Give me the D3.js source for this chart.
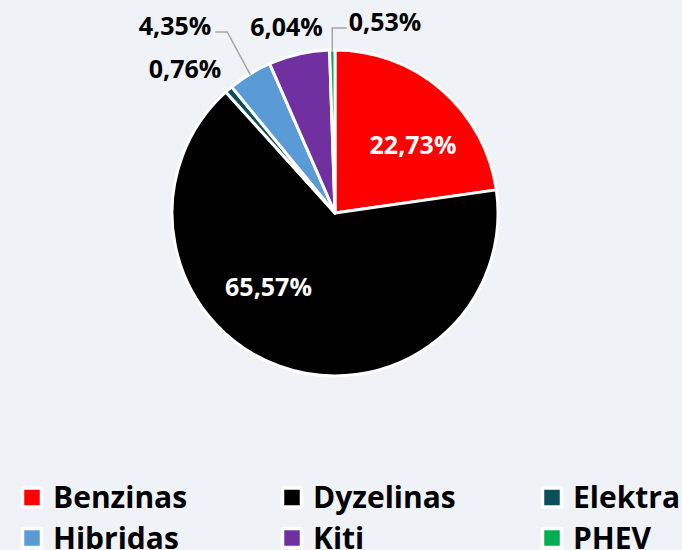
<!DOCTYPE html>
<html>
<head>
<meta charset="utf-8">
<script src="https://cdn.jsdelivr.net/npm/d3@7/dist/d3.min.js"></script>
<style>
  html, body { margin: 0; padding: 0; background: #eff2f6; }
  svg { display: block; }
  text { font-family: "Open Sans", "Noto Sans", sans-serif; font-weight: 700; }
</style>
</head>
<body>
<script>
// ---- data ----
const categories = ["Benzinas", "Dyzelinas", "Elektra", "Hibridas", "Kiti", "PHEV"];
const values = [22.73, 65.57, 0.76, 4.35, 6.04, 0.53];
const labels = ["22,73%", "65,57%", "0,76%", "4,35%", "6,04%", "0,53%"];
const colors = ["#ff0000", "#000000", "#0b4f5a", "#5b9bd5", "#7030a0", "#00b050"];

// ---- layout ----
const W = 682, H = 550;
const cx = 335, cy = 213, R = 163;
// label centre offsets from pie centre (best-fit placement)
const labelOffsets = [[78, -68], [-66.5, 73.5], [-150, -144], [-160, -187], [-48.5, -186], [50, -191]];
const labelFill = ["#ffffff", "#ffffff", "#000000", "#000000", "#000000", "#000000"];

const svg = d3.select("body").append("svg").attr("width", W).attr("height", H);
svg.append("rect").attr("width", W).attr("height", H).attr("fill", "#eff2f6");

const pie = d3.pie().sort(null).value(d => d.v);
const data = categories.map((c, i) => ({ c, v: values[i], i }));
const arcs = pie(data);
const arc = d3.arc().innerRadius(0).outerRadius(R);
const edgeArc = d3.arc().innerRadius(R - 1).outerRadius(R - 1);

const color = d3.scaleOrdinal().domain(categories).range(colors);

const g = svg.append("g").attr("transform", `translate(${cx},${cy})`);
g.selectAll("path.slice").data(arcs).join("path")
  .attr("class", "slice")
  .attr("d", arc)
  .attr("fill", d => color(d.data.c))
  .attr("stroke", "#ffffff")
  .attr("stroke-width", 3)
  .attr("stroke-linejoin", "round");

// labels
const lbl = g.selectAll("text.lbl").data(arcs).join("text")
  .attr("class", "lbl")
  .attr("x", d => labelOffsets[d.data.i][0])
  .attr("y", d => labelOffsets[d.data.i][1])
  .attr("dy", "0.36em")
  .attr("text-anchor", "middle")
  .attr("font-size", 25)
  .attr("fill", d => labelFill[d.data.i])
  .text(d => labels[d.data.i]);

// leader lines for Hibridas and PHEV
const lineColor = "#a6a6a6";
function leader(idx, side) {
  const a = arcs[idx];
  const p = edgeArc.centroid(a);
  const node = lbl.filter(d => d.data.i === idx).node();
  const bb = node.getBBox();
  const ly = labelOffsets[idx][1] + 6;
  let pts;
  if (side === "right") {
    const x0 = bb.x + bb.width + 4;
    pts = [[x0, ly], [x0 + 12, ly], p];
  } else {
    const x0 = bb.x - 2;
    pts = [[x0, ly], [p[0], ly], p];
  }
  g.append("path")
    .attr("d", d3.line()(pts))
    .attr("fill", "none")
    .attr("stroke", lineColor)
    .attr("stroke-width", 1.5);
}
leader(3, "right");
leader(5, "left");

// legend
const legCols = [20, 280, 540];
const legRows = [497.5, 538];
const leg = svg.append("g");
categories.forEach((c, i) => {
  const x = legCols[i % 3], y = legRows[Math.floor(i / 3)];
  leg.append("rect")
    .attr("x", x + 2.5).attr("y", y - 9.5)
    .attr("width", 19).attr("height", 19)
    .attr("fill", color(c))
    .attr("stroke", "#ffffff").attr("stroke-width", 3.5);
  leg.append("text")
    .attr("x", x + 33).attr("y", y + 10.5)
    .attr("font-size", 30)
    .attr("fill", "#000000")
    .text(c);
});
</script>
</body>
</html>
